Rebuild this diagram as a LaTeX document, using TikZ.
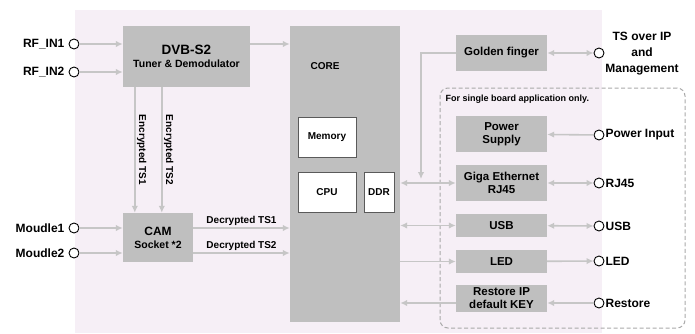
\documentclass[tikz,border=0pt]{standalone}
\usepackage{fontspec}
\setmainfont{Liberation Sans}
\usetikzlibrary{arrows.meta,positioning,calc}

\definecolor{bgpink}{HTML}{F6EFF6}
\definecolor{boxgray}{HTML}{BFBFBF}
\definecolor{wiregray}{HTML}{C6C6C6}
\definecolor{dashgray}{HTML}{A9A9A9}
\definecolor{edgegray}{HTML}{5A5A5A}

\begin{document}
\begin{tikzpicture}[x=1pt,y=-1pt,>={Latex[length=7pt,width=6.5pt]},font=\bfseries,
    blk/.style={fill=boxgray,inner sep=1pt,align=center,font=\bfseries\fontsize{11.5}{13}\selectfont},
    sub/.style={fill=white,draw=edgegray,semithick,font=\bfseries\fontsize{10}{12}\selectfont},
    port/.style={circle,draw=black,fill=white,line width=0.9pt,minimum size=10pt,inner sep=0pt},
    wire/.style={draw=wiregray,line width=1.6pt},
    extl/.style={font=\bfseries\fontsize{12}{16}\selectfont,inner sep=1pt},
    lbl/.style={font=\bfseries\fontsize{10}{12}\selectfont,inner sep=1pt}]
    \fill [bgpink] (75,10) rectangle (602,333);
    \useasboundingbox (0,0) rectangle (695,333);
    \node [draw=dashgray,dash pattern=on 4pt off 2.5pt,line width=1pt,rounded corners=8pt,
        minimum width=245pt,minimum height=240pt] (single) at (562.5,208) {};
    \node [lbl,font=\bfseries\fontsize{9}{10}\selectfont,anchor=west] (onlynote)
        at ([xshift=5pt,yshift=-12pt]single.north west) {For single board application only.};
    \node [blk,minimum width=127pt,minimum height=61pt] (dvb) at (186.5,56.5)
        {\fontsize{13.5}{13}\selectfont DVB-S2\\\fontsize{10.5}{12}\selectfont Tuner \& Demodulator};
    \node [blk,minimum width=70pt,minimum height=49pt] (cam) at (158,237.5)
        {\fontsize{12}{13}\selectfont CAM\\\fontsize{10.5}{12}\selectfont Socket *2};
    \node [blk,minimum width=110pt,minimum height=296pt] (core) at (345,174) {};
    \node [lbl] (corename) at (325,66) {CORE};
    \node [sub,minimum width=58pt,minimum height=40pt] (mem) at (327,137) {Memory};
    \node [sub,minimum width=58pt,minimum height=40pt] (cpu) at (327,192) {CPU};
    \node [sub,minimum width=30pt,minimum height=40pt] (ddr) at (379,192) {DDR};
    \foreach \nm/\y/\h/\txt in {golden/53/36/Golden finger,power/134/36/Power\\Supply,
        giga/183/36/Giga Ethernet\\RJ45,usb/225.5/23/USB,led/261.5/23/LED,
        restore/298.5/27/Restore IP\\default KEY}
        \node [blk,minimum width=91pt,minimum height=\h pt] (\nm) at (501.5,\y) {\txt};
    \foreach \nm/\y/\txt in {rfa/44/RF\_IN1,rfb/72/RF\_IN2,moda/228/Moudle1,modb/253/Moudle2}
        \node [port,label={[extl,label distance=3pt]left:\txt}] (\nm) at (74,\y) {};
    \foreach \nm/\y/\txt in {pwrin/135/Power Input,rj/183/RJ45,usbport/226/USB,
        ledport/261/LED,rst/303/Restore}
        \node [port,label={[extl,label distance=0pt]right:\txt}] (\nm) at (599,\y) {};
    \node [port] (tsip) at (599,53) {};
    \node [extl,align=center] (tsiptext) at (642,54) {TS over IP\\and\\Management};
    \draw [wire,->] (rfa) -- (rfa -| dvb.west);
    \draw [wire,->] (rfb) -- (rfb -| dvb.west);
    \draw [wire,->] (dvb.east |- rfa) -- (core.west |- rfa);
    \draw [wire,->] ([xshift=12pt]dvb.south west) --
        node [lbl,rotate=-90,anchor=south,inner sep=1.5pt] (enc1) {Encrypted TS1} ([xshift=12pt]cam.north west);
    \draw [wire,->] ([xshift=39pt]dvb.south west) --
        node [lbl,rotate=-90,anchor=south,inner sep=1.5pt] (enc2) {Encrypted TS2} ([xshift=39pt]cam.north west);
    \draw [wire,->] (moda) -- (moda -| cam.west);
    \draw [wire,->] (modb) -- (modb -| cam.west);
    \draw [wire,->] (cam.east |- moda) -- node [lbl,above=1pt] (dec1) {Decrypted TS1} (core.west |- moda);
    \draw [wire,->] (cam.east |- modb) -- node [lbl,above=1pt] (dec2) {Decrypted TS2} (core.west |- modb);
    \coordinate (tap) at (421,179);
    \draw [wire,->] (golden.west) -| (tap);
    \draw [wire,<->] (golden) -- (tsip);
    \draw [wire,->] (pwrin) -- (power);
    \draw [wire,<->] (core.east |- giga) -- (giga.west);
    \draw [wire,<->] (giga) -- (rj);
    \draw [wire,<->] (core.east |- usb) -- (usb.west);
    \draw [wire,<->] (usb) -- (usbport);
    \draw [wire,->] (core.east |- led) -- (led.west);
    \draw [wire,->] (led) -- (ledport);
    \draw [wire,->] (rst) -- (rst -| restore.east);
    \draw [wire,->] (restore.west |- rst) -- (core.east |- rst);
\end{tikzpicture}
\end{document}
